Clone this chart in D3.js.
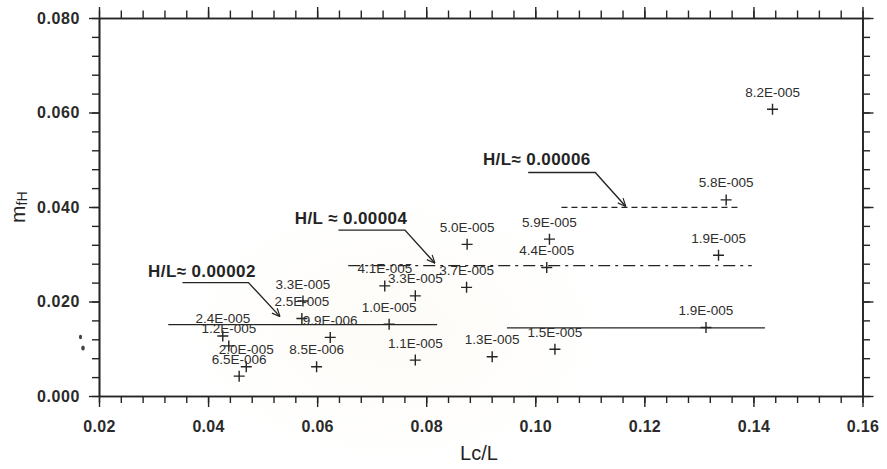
<!DOCTYPE html>
<html>
<head>
<meta charset="utf-8">
<script src="https://cdn.jsdelivr.net/npm/d3@7"></script>
<style>
  body { margin: 0; background: #fff; }
  svg text { font-family: Arial, "Liberation Sans", Helvetica, sans-serif; }
</style>
</head>
<body>
<svg id="chart" width="887" height="469"></svg>
<script>
// Measured points: relative crest length Lc/L against friction factor m_fH,
// each tagged with its wave steepness H/L.
const lcRatio = [0.0427, 0.0438, 0.0470, 0.0457, 0.0574, 0.0572, 0.0624, 0.0599,
                 0.0724, 0.0780, 0.0732, 0.0780, 0.0875, 0.0874, 0.0921, 0.1026,
                 0.1021, 0.1036, 0.1350, 0.1336, 0.1313, 0.1435];
const mfH = [0.0127, 0.0106, 0.0062, 0.0042, 0.0201, 0.0164, 0.0124, 0.0062,
             0.0233, 0.0212, 0.0152, 0.0076, 0.0321, 0.0230, 0.0083, 0.0332,
             0.0272, 0.0099, 0.0415, 0.0298, 0.0145, 0.0607];
const steepnessLabels = ["2.4E-005", "1.2E-005", "2.0E-005", "6.5E-006", "3.3E-005", "2.5E-005",
                         "9.9E-006", "8.5E-006", "4.1E-005", "3.3E-005", "1.0E-005", "1.1E-005",
                         "5.0E-005", "3.7E-005", "1.3E-005", "5.9E-005", "4.4E-005", "1.5E-005",
                         "5.8E-005", "1.9E-005", "1.9E-005", "8.2E-005"];

// Axis ticks
const xTicks = [0.02, 0.04, 0.06, 0.08, 0.10, 0.12, 0.14, 0.16];
const yTicks = [0.000, 0.020, 0.040, 0.060, 0.080];
const xTickLabels = ["0.02", "0.04", "0.06", "0.08", "0.10", "0.12", "0.14", "0.16"];
const yTickLabels = ["0.000", "0.020", "0.040", "0.060", "0.080"];

// Mean levels for each steepness group: start, end, level
const levelStart = [0.0327, 0.0948, 0.0657, 0.1048];
const levelEnd   = [0.0820, 0.1421, 0.1397, 0.1372];
const levelValue = [0.0151, 0.0144, 0.0276, 0.0399];
const levelKind  = ["solid", "solid", "dashdot", "dashed"];

// Callouts: text, anchor of text, leader elbow start, elbow end, arrow tip
const calloutText = ["H/L\u2248 0.00002", "H/L \u2248 0.00004", "H/L\u2248 0.00006"];
const calloutX  = [0.0290, 0.0559, 0.0904];
const calloutY  = [0.0252, 0.0364, 0.0489];
const leaderX0  = [0.0353, 0.0639, 0.0987];
const leaderX1  = [0.0474, 0.0761, 0.1110];
const leaderY   = [0.0240, 0.0351, 0.0473];
const tipX      = [0.0532, 0.0816, 0.1166];
const tipY      = [0.0168, 0.0281, 0.0401];

const svg = d3.select("#chart");
const ink = "#242424";

const x = d3.scaleLinear().domain([0.02, 0.16]).range([99, 862.5]);
const y = d3.scaleLinear().domain([0, 0.08]).range([396, 18]);

// faint paper tint behind the plot
const defs = svg.append("defs");
const rg = defs.append("radialGradient").attr("id", "tint")
  .attr("cx", "0.5").attr("cy", "0.5").attr("r", "0.5");
rg.append("stop").attr("offset", "0").attr("stop-color", "#f5ecd2").attr("stop-opacity", 0.18);
rg.append("stop").attr("offset", "1").attr("stop-color", "#f5ecd2").attr("stop-opacity", 0);
svg.append("ellipse").attr("cx", 395).attr("cy", 330).attr("rx", 220).attr("ry", 140)
  .attr("fill", "url(#tint)");

// arrowhead for the callout leaders
defs.append("marker").attr("id", "arrow")
  .attr("viewBox", "0 0 10 10").attr("refX", 10).attr("refY", 5)
  .attr("markerWidth", 9).attr("markerHeight", 9).attr("markerUnits", "userSpaceOnUse")
  .attr("orient", "auto")
  .append("path").attr("d", "M1,1 L10,5 L1,9").attr("fill", "none")
  .attr("stroke", ink).attr("stroke-width", 1.3);

// ---- axes ----
const minorX = d3.range(0, 36).map(i => 0.02 + i * 0.004);
const minorY = d3.range(0, 21).map(i => i * 0.004);

function styleAxis(g) {
  g.selectAll("path.domain").attr("stroke", ink).attr("stroke-width", 1.6);
  g.selectAll(".tick line").attr("stroke", ink).attr("stroke-width", 1.4);
}

// bottom
svg.append("g").attr("transform", `translate(0,${y(0)})`)
  .call(d3.axisBottom(x).tickValues(minorX).tickSize(7).tickSizeOuter(0).tickFormat(""))
  .call(styleAxis);
const bx = svg.append("g").attr("transform", `translate(0,${y(0)})`)
  .call(d3.axisBottom(x).tickValues(xTicks).tickSize(11).tickSizeOuter(0)
        .tickFormat((d, i) => xTickLabels[i]))
  .call(styleAxis);
bx.selectAll("text").attr("y", 36).attr("dy", 0)
  .attr("font-size", 16).attr("font-weight", "bold").attr("fill", "#2a2a2a")
  .attr("letter-spacing", 0.3);

// top
svg.append("g").attr("transform", `translate(0,${y(0.08)})`)
  .call(d3.axisTop(x).tickValues(minorX).tickSize(7.5).tickSizeOuter(0).tickFormat(""))
  .call(styleAxis);
svg.append("g").attr("transform", `translate(0,${y(0.08)})`)
  .call(d3.axisTop(x).tickValues(xTicks).tickSize(11).tickSizeOuter(0).tickFormat(""))
  .call(styleAxis);

// left
svg.append("g").attr("transform", `translate(${x(0.02)},0)`)
  .call(d3.axisLeft(y).tickValues(minorY).tickSize(7).tickSizeOuter(0).tickFormat(""))
  .call(styleAxis);
const ly = svg.append("g").attr("transform", `translate(${x(0.02)},0)`)
  .call(d3.axisLeft(y).tickValues(yTicks).tickSize(10).tickSizeOuter(0).tickPadding(9)
        .tickFormat((d, i) => yTickLabels[i]))
  .call(styleAxis);
ly.selectAll("text").attr("font-size", 16).attr("font-weight", "bold").attr("fill", "#2a2a2a")
  .attr("letter-spacing", 0.6);

// right
svg.append("g").attr("transform", `translate(${x(0.16)},0)`)
  .call(d3.axisRight(y).tickValues(minorY).tickSize(7.5).tickSizeOuter(0).tickFormat(""))
  .call(styleAxis);
svg.append("g").attr("transform", `translate(${x(0.16)},0)`)
  .call(d3.axisRight(y).tickValues(yTicks).tickSize(11).tickSizeOuter(0).tickFormat(""))
  .call(styleAxis);

// axis titles
svg.append("text").attr("x", 479).attr("y", 460).attr("text-anchor", "middle")
  .attr("font-size", 20).attr("fill", ink).text("Lc/L");
const yt = svg.append("text").attr("transform", "translate(25,223) rotate(-90)")
  .attr("font-size", 21).attr("fill", ink);
yt.append("tspan").text("m");
yt.append("tspan").attr("font-size", 14).attr("dy", 2).text("fH");

// small specks beside the axis
svg.append("ellipse").attr("cx", 80.5).attr("cy", 337).attr("rx", 1.6).attr("ry", 2.2).attr("fill", "#444");
svg.append("ellipse").attr("cx", 83).attr("cy", 348).attr("rx", 1.8).attr("ry", 2.6).attr("fill", "#444");

// ---- group level lines ----
const dash = { solid: null, dashdot: "12,5,3,5", dashed: "6,4" };
svg.append("g").selectAll("line").data(levelValue).join("line")
  .attr("x1", (d, i) => x(levelStart[i])).attr("x2", (d, i) => x(levelEnd[i]))
  .attr("y1", d => y(d)).attr("y2", d => y(d))
  .attr("stroke", ink).attr("stroke-width", 1.3)
  .attr("stroke-dasharray", (d, i) => dash[levelKind[i]]);

// ---- callouts ----
const co = svg.append("g");
co.selectAll("text").data(calloutText).join("text")
  .attr("x", (d, i) => x(calloutX[i])).attr("y", (d, i) => y(calloutY[i]))
  .attr("font-size", 17).attr("font-weight", "bold").attr("letter-spacing", 0.4)
  .attr("fill", ink).text(d => d);
co.selectAll("path").data(calloutText).join("path")
  .attr("d", (d, i) => `M${x(leaderX0[i])},${y(leaderY[i])}H${x(leaderX1[i])}L${x(tipX[i])},${y(tipY[i])}`)
  .attr("fill", "none").attr("stroke", ink).attr("stroke-width", 1.4)
  .attr("marker-end", "url(#arrow)");

// ---- data points ----
const pts = lcRatio.map((v, i) => ({ lc: v, m: mfH[i], label: steepnessLabels[i] }));
const pg = svg.append("g").selectAll("g").data(pts).join("g")
  .attr("transform", d => `translate(${x(d.lc)},${y(d.m)})`);
pg.append("path").attr("d", "M-5.5,0H5.5M0,-5.5V5.5")
  .attr("stroke", ink).attr("stroke-width", 1.4);
pg.append("text").attr("y", -12.5).attr("text-anchor", "middle")
  .attr("font-size", 13.5).attr("fill", "#2e2e2e").text(d => d.label);
</script>
</body>
</html>
